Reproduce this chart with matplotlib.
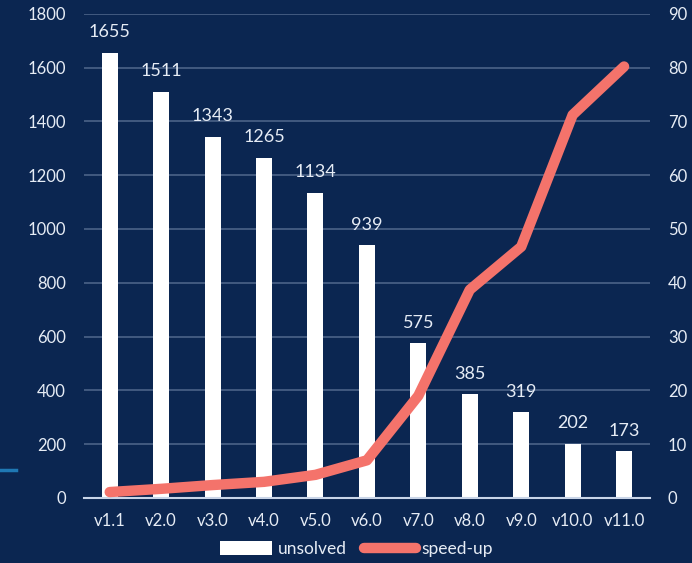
import matplotlib
import numpy as np

matplotlib.use("Agg")
import matplotlib.pyplot as plt
from matplotlib.lines import Line2D
from matplotlib.patches import Patch

versions = ["v1.1", "v2.0", "v3.0", "v4.0", "v5.0", "v6.0",
            "v7.0", "v8.0", "v9.0", "v10.0", "v11.0"]
unsolved = [1655, 1511, 1343, 1265, 1134, 939, 575, 385, 319, 202, 173]
speedup = [1.1, 1.7, 2.4, 3.0, 4.3, 7.0, 19.0, 38.7, 46.7, 71.2, 80.2]

BG = "#0b2651"
GRID = "#4b6388"
TEXT = "#e6ecf5"
RED = "#f4736b"

plt.rcParams["font.family"] = ["Lato", "DejaVu Sans"]

fig = plt.figure(figsize=(6.92, 5.63), dpi=100, facecolor=BG)
ax = fig.add_axes([0.1214, 0.1155, 0.8176, 0.86])
ax.set_facecolor(BG)
x = np.arange(len(versions))

ax.bar(x, unsolved, width=0.31, color="white", zorder=2)
for xi, v in zip(x, unsolved):
    ax.annotate(str(v), (xi, v), xytext=(0, 9), textcoords="offset points",
                ha="center", va="bottom", color=TEXT, fontsize=13)

ax.set_ylim(0, 1800)
ax.set_yticks(range(0, 1801, 200))
ax.set_xlim(-0.5, len(versions) - 0.5)
ax.set_xticks(x)
ax.set_xticklabels(versions)
ax.yaxis.grid(True, color=GRID, linewidth=1.2, zorder=0)
ax.set_axisbelow(True)
for side in ["top", "right", "left"]:
    ax.spines[side].set_visible(False)
ax.spines["bottom"].set_color("#c9d5e8")
ax.spines["bottom"].set_linewidth(1.5)
ax.tick_params(axis="both", length=0, colors=TEXT, labelsize=12)
ax.tick_params(axis="y", pad=13)
ax.tick_params(axis="x", pad=11)

ax2 = ax.twinx()
ax2.plot(x, speedup, color=RED, linewidth=7.5, solid_capstyle="round",
         solid_joinstyle="round", zorder=3)
ax2.set_ylim(0, 90)
ax2.set_yticks(range(0, 91, 10))
for side in ["top", "right", "left", "bottom"]:
    ax2.spines[side].set_visible(False)
ax2.tick_params(axis="y", length=0, colors=TEXT, labelsize=12, pad=13)

fig.add_artist(Line2D([0, 16 / 692], [1 - 470 / 563] * 2, color="#1f78b4",
                      linewidth=2.5, transform=fig.transFigure))

handles = [Patch(facecolor="white", edgecolor="none"),
           Line2D([0], [0], color=RED, linewidth=7.5, solid_capstyle="round")]
leg = fig.legend(handles, ["unsolved", "speed-up"], loc="center",
                 bbox_to_anchor=(0.515, 1 - 549 / 563), ncol=2, frameon=False,
                 fontsize=12.5, handlelength=3.0, handleheight=0.8,
                 handletextpad=0.3, columnspacing=1.0)
for t in leg.get_texts():
    t.set_color(TEXT)

fig.savefig("out.png", dpi=100, facecolor=BG)
